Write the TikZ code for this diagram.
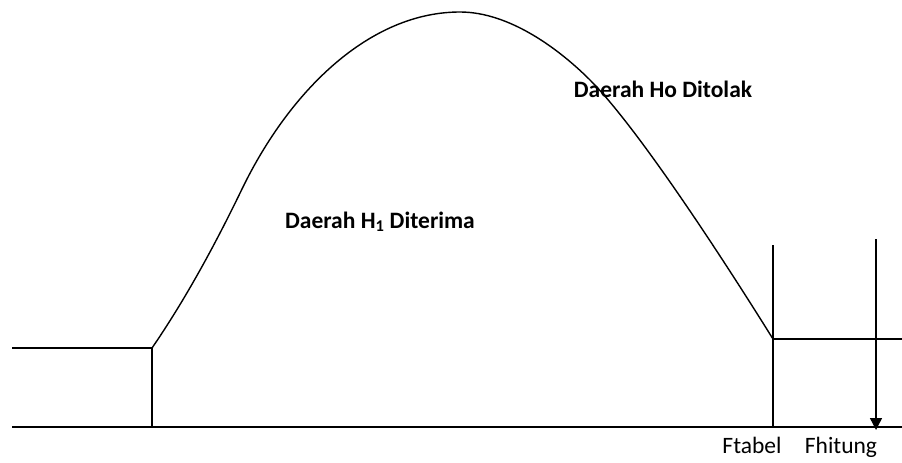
\documentclass[tikz,border=0pt]{standalone}
\usepackage{fontspec}
\setmainfont{Carlito}
\usetikzlibrary{positioning, arrows.meta}

\begin{document}
\begin{tikzpicture}[x=1pt, y=-1pt,
  line/.style={line width=1.4pt, color=black},
  arr/.style={line, -{Triangle[length=12pt, width=12pt]}},
  area/.style={font=\fontsize{23.5}{28}\selectfont\bfseries, inner sep=0pt, anchor=base},
  lbl/.style={font=\fontsize{23.5}{28}\selectfont, inner sep=0pt, anchor=base}
]
  \useasboundingbox (0,0) rectangle (902,463);
  % base line and the two tails
  \coordinate (base-l)    at (12,427);
  \coordinate (base-r)    at (902,427);
  \coordinate (tail-l)    at (12,348);
  \coordinate (left-top)  at (152,348);
  \coordinate (left-bot)  at (152,427);
  \coordinate (right-top) at (773,339);
  \coordinate (tail-r)    at (902,339);
  \coordinate (ftab-top)  at (773,245);
  \coordinate (ftab-bot)  at (773,427);
  \coordinate (fhit-top)  at (876,239);
  \coordinate (fhit-bot)  at (876,430);
  \coordinate (peak)      at (460,12);
  \draw[line] (base-l) -- (base-r);
  \draw[line] (tail-l) -- (left-top) -- (left-bot);
  \draw[line] (right-top) -- (tail-r);
  \draw[line] (ftab-top) -- (ftab-bot);
  % curve
  \draw[line] (left-top) .. controls (185,300) and (215,245) .. (242,189)
    .. controls (290,90) and (370,12) .. (peak)
    .. controls (510,12) and (560,50) .. (590,80)
    .. controls (640,130) and (730,270) .. (right-top);
  \draw[arr] (fhit-top) -- (fhit-bot);
  \node[area] (acc) at (380,228) {Daerah H\textsubscript{1} Diterima};
  \node[area] (rej) at (663,97)  {Daerah Ho Ditolak};
  \node[lbl] (ftab) at (752,453) {Ftabel};
  \node[lbl] (fhit) at (841,453) {Fhitung};
\end{tikzpicture}
\end{document}
